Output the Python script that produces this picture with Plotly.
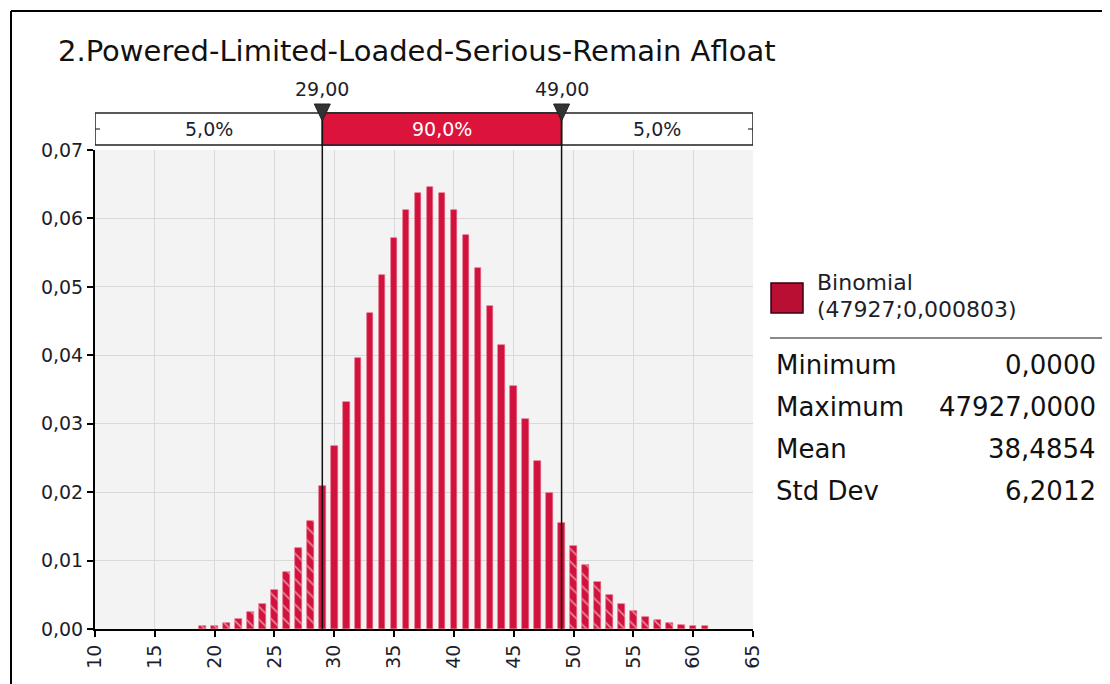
import plotly.graph_objects as go

# ---- data ----
x_values = list(range(19, 62))
probabilities = [
    0.0005, 0.0005, 0.0009, 0.0015, 0.0025, 0.0037, 0.0057, 0.0083, 0.0118, 0.0158,
    0.0209, 0.0267, 0.0332, 0.0396, 0.0462, 0.0517, 0.0571, 0.0612, 0.0637, 0.0646,
    0.0637, 0.0612, 0.0576, 0.0528, 0.0472, 0.0415, 0.0355, 0.0307, 0.0246, 0.0199,
    0.0155, 0.0121, 0.0094, 0.0069, 0.0050, 0.0037, 0.0027, 0.0018, 0.0013, 0.0009,
    0.0006, 0.0005, 0.0004,
]
lower_cut = 29
upper_cut = 49
band_labels = ["5,0%", "90,0%", "5,0%"]
cut_labels = ["29,00", "49,00"]
title_text = "2.Powered-Limited-Loaded-Serious-Remain Afloat"
legend_name = ["Binomial", "(47927;0,000803)"]
stat_names = ["Minimum", "Maximum", "Mean", "Std Dev"]
stat_values = ["0,0000", "47927,0000", "38,4854", "6,2012"]
x_ticks = list(range(10, 66, 5))
y_ticks = [0.0, 0.01, 0.02, 0.03, 0.04, 0.05, 0.06, 0.07]

# ---- layout geometry (screen pixels; page has an 8px body margin) ----
OFF = 8
W, H = 1110 - OFF, 684 - OFF
PL, PR, PT, PB = 95, 753, 150, 629
XMIN, XMAX = 10, 65


def px_x(px):
    return (px - PL) / (PR - PL)


def px_y(py):
    return (PB - py) / (PB - PT)


def ux(px):  # pixel -> data x
    return XMIN + (px - PL) / (PR - PL) * (XMAX - XMIN)


RED = "#d0123c"
FONT = "DejaVu Sans"
TXT = "#1e1e2a"

patterns = ["" if lower_cut <= v <= upper_cut else "\\" for v in x_values]

fig = go.Figure()
fig.add_trace(go.Bar(
    x=x_values, y=probabilities, width=0.55,
    marker=dict(color=RED, line=dict(width=0.6, color="#e8607c"),
                pattern=dict(shape=patterns, fgcolor="white", bgcolor=RED,
                             size=9, solidity=0.18, fillmode="overlay")),
    showlegend=False, hoverinfo="x+y",
))

shapes = []
annotations = []

# outer frame
shapes.append(dict(type="line", xref="paper", yref="paper",
                   x0=px_x(11), x1=px_x(1115), y0=px_y(11), y1=px_y(11),
                   line=dict(color="black", width=2)))
shapes.append(dict(type="line", xref="paper", yref="paper",
                   x0=px_x(11), x1=px_x(11), y0=px_y(11), y1=px_y(690),
                   line=dict(color="black", width=2)))

# top band
b_top, b_bot = px_y(113), px_y(145)
shapes.append(dict(type="rect", xref="x", yref="paper", x0=XMIN, x1=XMAX, y0=b_bot, y1=b_top,
                   fillcolor="white", line=dict(color="#222", width=1.5), layer="above"))
shapes.append(dict(type="rect", xref="x", yref="paper", x0=lower_cut, x1=upper_cut, y0=b_bot, y1=b_top,
                   fillcolor="#dc143c", line=dict(color="#222", width=1.5), layer="above"))
# vertical cut lines
for c in (lower_cut, upper_cut):
    shapes.append(dict(type="line", xref="x", yref="paper", x0=c, x1=c, y0=0, y1=b_top,
                       line=dict(color="#111", width=1.5), layer="above"))
    hw = ux(PL + 8) - XMIN
    tri_top, tri_bot = px_y(104), px_y(121)
    shapes.append(dict(type="path", xref="x", yref="paper",
                       path=f"M {c - hw},{tri_top} L {c + hw},{tri_top} L {c},{tri_bot} Z",
                       fillcolor="#333", line=dict(color="#222", width=1), layer="above"))
# band end decorations
mid = px_y(129)
for xa, xb, xc in ((ux(86), ux(100), ux(90)), (ux(748), ux(760), ux(756))):
    shapes.append(dict(type="line", xref="x", yref="paper", x0=xa, x1=xb, y0=mid, y1=mid,
                       line=dict(color="#333", width=1.2), layer="above"))
    shapes.append(dict(type="circle", xref="x", yref="paper",
                       x0=xc - (ux(PL + 3) - XMIN), x1=xc + (ux(PL + 3) - XMIN),
                       y0=mid - 3 / (PB - PT), y1=mid + 3 / (PB - PT),
                       fillcolor="white", line=dict(color="#333", width=1.2), layer="above"))

band_centers = [(XMIN + lower_cut) / 2, (lower_cut + upper_cut) / 2, (upper_cut + XMAX) / 2]
for cx, lab, col in zip(band_centers, band_labels, [TXT, "white", TXT]):
    annotations.append(dict(x=cx, y=px_y(129), xref="x", yref="paper", text=lab, showarrow=False,
                            font=dict(family=FONT, size=19, color=col), xanchor="center", yanchor="middle"))
for c, lab in zip((lower_cut, upper_cut), cut_labels):
    annotations.append(dict(x=c, y=px_y(89), xref="x", yref="paper", text=lab, showarrow=False,
                            font=dict(family=FONT, size=19, color=TXT), xanchor="center", yanchor="middle"))

# title
annotations.append(dict(x=px_x(56), y=px_y(51), xref="paper", yref="paper", text=title_text,
                        showarrow=False, xanchor="left", yanchor="middle",
                        font=dict(family=FONT, size=29, color="#111")))

# legend swatch + text
shapes.append(dict(type="rect", xref="paper", yref="paper", x0=px_x(771), x1=px_x(803),
                   y0=px_y(313), y1=px_y(283), fillcolor="#b80f33",
                   line=dict(color="#3a0010", width=1.5)))
annotations.append(dict(x=px_x(815), y=px_y(282), xref="paper", yref="paper", text=legend_name[0],
                        showarrow=False, xanchor="left", yanchor="middle",
                        font=dict(family=FONT, size=22, color=TXT)))
annotations.append(dict(x=px_x(815), y=px_y(309), xref="paper", yref="paper", text=legend_name[1],
                        showarrow=False, xanchor="left", yanchor="middle",
                        font=dict(family=FONT, size=22, color=TXT)))
shapes.append(dict(type="line", xref="paper", yref="paper", x0=px_x(770), x1=px_x(1106),
                   y0=px_y(338), y1=px_y(338), line=dict(color="#8a8a8a", width=2)))
for i, (n, v) in enumerate(zip(stat_names, stat_values)):
    yy = px_y(365 + 42 * i)
    annotations.append(dict(x=px_x(774), y=yy, xref="paper", yref="paper", text=n, showarrow=False,
                            xanchor="left", yanchor="middle", font=dict(family=FONT, size=26, color="#111")))
    annotations.append(dict(x=px_x(1098), y=yy, xref="paper", yref="paper", text=v, showarrow=False,
                            xanchor="right", yanchor="middle", font=dict(family=FONT, size=26, color="#111")))

fig.update_layout(
    width=W, height=H,
    margin=dict(l=PL - OFF, r=1110 - PR, t=PT - OFF, b=684 - PB, pad=0),
    paper_bgcolor="white", plot_bgcolor="#f3f3f3",
    separators=",.",
    bargap=0,
    shapes=shapes, annotations=annotations,
    showlegend=False,
    font=dict(family=FONT, size=19, color=TXT),
)
fig.update_xaxes(range=[XMIN, XMAX], tickmode="array", tickvals=x_ticks,
                 ticktext=[str(t) for t in x_ticks], tickangle=-90,
                 showgrid=True, gridcolor="#d9d9d9", gridwidth=1,
                 showline=True, linecolor="black", linewidth=2,
                 ticks="outside", ticklen=6, tickcolor="black", tickwidth=2,
                 zeroline=False, tickfont=dict(family=FONT, size=19, color=TXT))
fig.update_yaxes(range=[0, 0.07], tickmode="array", tickvals=y_ticks,
                 ticktext=[f"{t:.2f}".replace(".", ",") for t in y_ticks],
                 showgrid=True, gridcolor="#d9d9d9", gridwidth=1,
                 showline=True, linecolor="black", linewidth=2,
                 ticks="outside", ticklen=6, tickcolor="black", tickwidth=2,
                 zeroline=False, tickfont=dict(family=FONT, size=19, color=TXT))

fig.write_html("out.html")
